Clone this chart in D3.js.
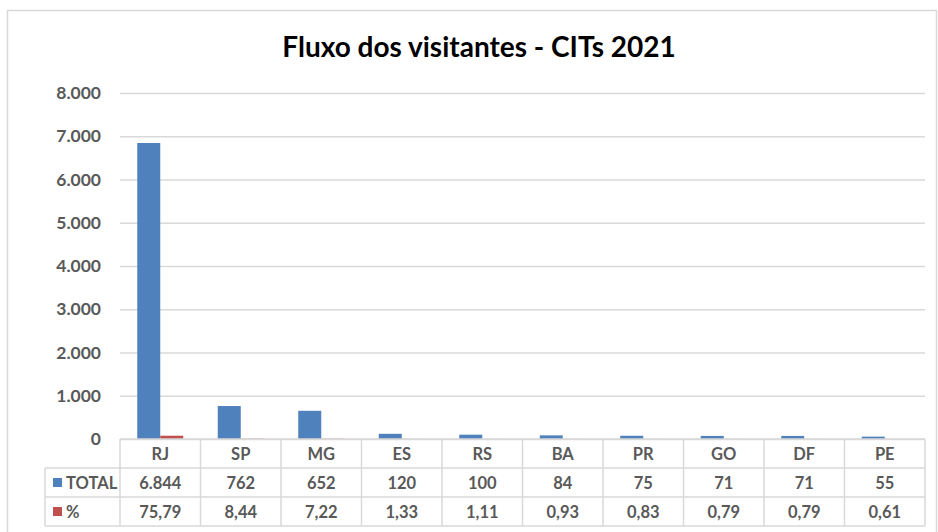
<!DOCTYPE html>
<html>
<head>
<meta charset="utf-8">
<script src="https://cdn.jsdelivr.net/npm/d3@7"></script>
<style>
	body { margin: 0; background: #fff; }
	svg { display: block; font-family: Lato, "Open Sans", sans-serif; }
</style>
</head>
<body>
<div id="divChart"></div>
<script>
// values
var categories = ["RJ", "SP", "MG", "ES", "RS", "BA", "PR", "GO", "DF", "PE"];
var totalValues = [6844, 762, 652, 120, 100, 84, 75, 71, 71, 55];
var pctValues = [75.79, 8.44, 7.22, 1.33, 1.11, 0.93, 0.83, 0.79, 0.79, 0.61];
var totalLabels = ["6.844", "762", "652", "120", "100", "84", "75", "71", "71", "55"];
var pctLabels = ["75,79", "8,44", "7,22", "1,33", "1,11", "0,93", "0,83", "0,79", "0,79", "0,61"];
var yTicks = [0, 1000, 2000, 3000, 4000, 5000, 6000, 7000, 8000];
var seriesNames = ["TOTAL", "%"];

var ctx = {
	width: 938,
	height: 532,
	left: 120,
	right: 925,
	top: 93,
	bottom: 439,
	rowH: 29,
	blue: "#4F81BD",
	red: "#C0504D",
	grid: "#D9D9D9",
	text: "#595959",
};

var svg = d3.select("#divChart")
	.append("svg")
	.attr("width", ctx.width)
	.attr("height", ctx.height);

// chart frame
svg.append("rect")
	.attr("x", 7.5)
	.attr("y", 10.5)
	.attr("width", 929)
	.attr("height", 530)
	.attr("fill", "white")
	.attr("stroke", ctx.grid)
	.attr("stroke-width", 1.5);

svg.append("text")
	.text("Fluxo dos visitantes - CITs 2021")
	.attr("x", 479)
	.attr("y", 57)
	.attr("text-anchor", "middle")
	.style("font-size", "28px")
	.style("font-weight", "bold")
	.attr("fill", "black");

var xscale = d3.scaleBand()
	.domain(categories)
	.range([ctx.left, ctx.right]);

var sub = d3.scaleBand()
	.domain(seriesNames)
	.range([-23, 23]);

var yscale = d3.scaleLinear()
	.domain([0, 8000])
	.range([ctx.bottom, ctx.top]);

// y axis, gridlines only
var yAxis = svg.append("g")
	.attr("class", "y-axis")
	.attr("transform", "translate(" + ctx.left + ",0)")
	.call(d3.axisLeft(yscale)
		.tickValues(yTicks)
		.tickSize(-(ctx.right - ctx.left))
		.tickPadding(19)
		.tickFormat((d) => d3.format(",")(d).replace(/,/g, ".")));

yAxis.select(".domain").remove();
yAxis.selectAll("line")
	.attr("stroke", ctx.grid)
	.attr("stroke-width", 1.5);
yAxis.selectAll("text")
	.attr("fill", ctx.text)
	.style("font-size", "17.5px")
	.style("font-weight", "bold")
	.style("font-family", "Lato, sans-serif");

// bars
var bars = svg.append("g");
bars.selectAll(".bar-total")
	.data(totalValues)
	.join("rect")
	.attr("class", "bar-total")
	.attr("x", (d, i) => xscale(categories[i]) + xscale.bandwidth() / 2 + sub("TOTAL"))
	.attr("width", sub.bandwidth())
	.attr("y", (d) => yscale(d))
	.attr("height", (d) => yscale(0) - yscale(d))
	.attr("fill", ctx.blue);

bars.selectAll(".bar-pct")
	.data(pctValues)
	.join("rect")
	.attr("class", "bar-pct")
	.attr("x", (d, i) => xscale(categories[i]) + xscale.bandwidth() / 2 + sub("%"))
	.attr("width", sub.bandwidth())
	.attr("y", (d) => yscale(d))
	.attr("height", (d) => yscale(0) - yscale(d))
	.attr("fill", ctx.red);

// data table
var table = svg.append("g");
var tTop = ctx.bottom;
var legLeft = 45;

// horizontal lines
table.append("line")
	.attr("x1", ctx.left).attr("x2", ctx.right)
	.attr("y1", tTop).attr("y2", tTop);
[1, 2, 3].forEach((r) => {
	table.append("line")
		.attr("x1", legLeft).attr("x2", ctx.right)
		.attr("y1", tTop + r * ctx.rowH).attr("y2", tTop + r * ctx.rowH);
});
// vertical lines
categories.forEach((c) => {
	table.append("line")
		.attr("x1", xscale(c)).attr("x2", xscale(c))
		.attr("y1", tTop).attr("y2", tTop + 3 * ctx.rowH);
});
table.append("line")
	.attr("x1", ctx.right).attr("x2", ctx.right)
	.attr("y1", tTop).attr("y2", tTop + 3 * ctx.rowH);
table.append("line")
	.attr("x1", legLeft).attr("x2", legLeft)
	.attr("y1", tTop + ctx.rowH).attr("y2", tTop + 3 * ctx.rowH);
table.selectAll("line")
	.attr("stroke", ctx.grid)
	.attr("stroke-width", 1.5);

var rows = [categories, totalLabels, pctLabels];
rows.forEach((row, r) => {
	table.selectAll(".cell-" + r)
		.data(row)
		.join("text")
		.attr("class", "cell-" + r)
		.attr("x", (d, i) => xscale(categories[i]) + xscale.bandwidth() / 2)
		.attr("y", tTop + r * ctx.rowH + ctx.rowH / 2 + 6)
		.attr("text-anchor", "middle")
		.attr("fill", ctx.text)
		.style("font-size", "16.5px")
		.style("font-weight", "bold")
		.text((d) => d);
});

// legend keys in the table
[ctx.blue, ctx.red].forEach((col, k) => {
	var cy = tTop + (k + 1) * ctx.rowH + ctx.rowH / 2;
	table.append("rect")
		.attr("x", 53)
		.attr("y", cy - 4.5)
		.attr("width", 9)
		.attr("height", 9)
		.attr("fill", col);
	table.append("text")
		.attr("x", 66)
		.attr("y", cy + 6)
		.attr("fill", ctx.text)
		.style("font-size", "16.5px")
		.style("font-weight", "bold")
		.text(seriesNames[k]);
});
</script>
</body>
</html>
